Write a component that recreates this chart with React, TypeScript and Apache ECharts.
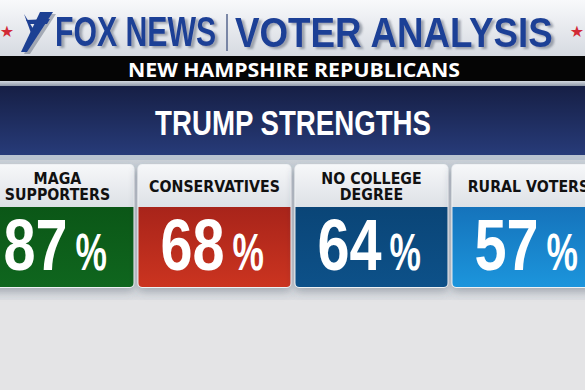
import React, { useEffect, useRef } from 'react';
import * as echarts from 'echarts';

const categories = ['MAGA\nSUPPORTERS', 'CONSERVATIVES', 'NO COLLEGE\nDEGREE', 'RURAL VOTERS'];
const positions = [0, 1, 2, 3];
const values = [87, 68, 64, 57];
const brand = 'FOX NEWS';
const brandTitle = 'VOTER ANALYSIS';
const subhead = 'NEW HAMPSHIRE REPUBLICANS';
const headline = 'TRUMP STRENGTHS';

const cardTop = ['#0b5717', '#a8241a', '#0a4577', '#1573bb'];
const cardBottom = ['#0f661e', '#cb3420', '#0d5189', '#1c95dc'];

export default function App() {
  const ref = useRef<HTMLDivElement>(null);
  useEffect(() => {
    const chart = echarts.init(ref.current!, null, { renderer: 'svg' });
    const lg = (a: string, b: string) =>
      new echarts.graphic.LinearGradient(0, 0, 0, 1, [
        { offset: 0, color: a },
        { offset: 1, color: b },
      ]);
    const shadowed = {
      textShadowColor: 'rgba(70,80,100,0.45)',
      textShadowOffsetX: 3,
      textShadowOffsetY: 2,
      textShadowBlur: 2,
    };
    const option: any = {
      animation: false,
      backgroundColor: '#e4e4e6',
      grid: { left: 0, right: 0, top: 165, bottom: 103 },
      xAxis: { type: 'value', min: -0.366, max: 3.36, show: false },
      yAxis: { type: 'value', min: 0, max: 1, show: false },
      graphic: [
        { type: 'rect', shape: { x: 0, y: 0, width: 585, height: 56 }, style: { fill: lg('#f8f9fb', '#d6dae1') } },
        { type: 'rect', shape: { x: 0, y: 56, width: 585, height: 25 }, style: { fill: '#050505' } },
        { type: 'rect', shape: { x: 0, y: 81, width: 585, height: 5 }, style: { fill: lg('#d3d8df', '#8f99a8') } },
        { type: 'rect', shape: { x: 0, y: 86, width: 585, height: 69 }, style: { fill: lg('#161f45', '#273b79') } },
        { type: 'rect', shape: { x: 0, y: 155, width: 585, height: 5 }, style: { fill: '#b9c3d0' } },
        { type: 'rect', shape: { x: 0, y: 160, width: 585, height: 140 }, style: { fill: lg('#cbd1d8', '#dcdee2') } },
        { type: 'text', x: 7, y: 31, style: { text: '★', fill: '#d22a36', fontSize: 16, fontFamily: 'DejaVu Sans', align: 'center', verticalAlign: 'middle' } },
        { type: 'text', x: 577, y: 31, style: { text: '★', fill: '#d22a36', fontSize: 16, fontFamily: 'DejaVu Sans', align: 'center', verticalAlign: 'middle' } },
        { type: 'polygon', shape: { points: [[40, 12], [53, 12], [27, 52], [21, 52]] }, style: { fill: '#1d3f93', shadowColor: 'rgba(70,80,100,0.4)', shadowOffsetX: 3, shadowOffsetY: 2 } },
        { type: 'polygon', shape: { points: [[26, 20], [50, 19], [47, 24], [29, 24]] }, style: { fill: '#1d3f93' } },
        { type: 'polygon', shape: { points: [[24, 14], [34, 30], [31, 33]] }, style: { fill: '#1d3f93' } },
        { type: 'text', x: 55, y: 32, scaleX: 0.72, style: { text: brand, fill: '#1f4096', fontSize: 42, fontWeight: 'bold', fontFamily: 'Liberation Sans', align: 'left', verticalAlign: 'middle', ...shadowed } },
        { type: 'line', shape: { x1: 227, y1: 14, x2: 227, y2: 51 }, style: { stroke: '#56668e', lineWidth: 1.5 } },
        { type: 'text', x: 235, y: 32, scaleX: 0.875, style: { text: brandTitle, fill: '#1f4096', fontSize: 42, fontWeight: 'bold', fontFamily: 'Liberation Sans', align: 'left', verticalAlign: 'middle', ...shadowed } },
        { type: 'text', x: 294, y: 69, scaleX: 1.12, style: { text: subhead, fill: '#ffffff', fontSize: 19, fontWeight: 'bold', fontFamily: 'Open Sans', align: 'center', verticalAlign: 'middle' } },
        { type: 'text', x: 293, y: 123, scaleX: 0.79, style: { text: headline, fill: '#ffffff', fontSize: 35, fontWeight: 'bold', fontFamily: 'Liberation Sans', align: 'center', verticalAlign: 'middle' } },
      ],
      series: [
        {
          type: 'custom',
          data: positions.map((p, i) => [p, values[i]]),
          renderItem: (params: any, api: any) => {
            const i = params.dataIndex;
            const p = api.value(0);
            const top = api.coord([p, 1]);
            const bottom = api.coord([p, 0]);
            const band = api.size([1, 0])[0];
            const w = band - 5;
            const cx = top[0];
            const x0 = cx - w / 2;
            const y0 = top[1];
            const y1 = bottom[1];
            const headH = 42;
            return {
              type: 'group',
              children: [
                {
                  type: 'rect',
                  shape: { x: x0 - 1, y: y0 - 1, width: w + 2, height: y1 - y0 + 2, r: 5 },
                  style: { fill: '#eef1f4', shadowBlur: 8, shadowOffsetY: 4, shadowColor: 'rgba(60,70,90,0.35)' },
                },
                {
                  type: 'rect',
                  shape: { x: x0, y: y0, width: w, height: headH, r: [4, 4, 0, 0] },
                  style: { fill: lg('#f6f7f9', '#dde1e6') },
                },
                {
                  type: 'rect',
                  shape: { x: x0, y: y0 + headH, width: w, height: y1 - y0 - headH, r: [0, 0, 4, 4] },
                  style: { fill: lg(cardTop[i], cardBottom[i]) },
                },
                {
                  type: 'text',
                  x: cx,
                  y: y0 + 22,
                  scaleX: 0.86,
                  style: {
                    text: categories[i],
                    fill: '#111111',
                    fontSize: 16.5,
                    fontWeight: 'bold',
                    fontFamily: 'DejaVu Sans',
                    lineHeight: 16,
                    align: 'center',
                    verticalAlign: 'middle',
                  },
                },
                {
                  type: 'text',
                  x: cx + 10,
                  y: y0 + 80,
                  scaleX: 0.8,
                  style: {
                    text: String(api.value(1)),
                    fill: '#ffffff',
                    fontSize: 72,
                    fontWeight: 'bold',
                    fontFamily: 'Liberation Sans',
                    align: 'right',
                    verticalAlign: 'middle',
                  },
                },
                {
                  type: 'text',
                  x: cx + 18,
                  y: y0 + 87,
                  scaleX: 0.68,
                  style: {
                    text: '%',
                    fill: '#ffffff',
                    fontSize: 52,
                    fontWeight: 'bold',
                    fontFamily: 'Liberation Sans',
                    align: 'left',
                    verticalAlign: 'middle',
                  },
                },
              ],
            };
          },
        },
      ],
    };
    chart.setOption(option);
    return () => chart.dispose();
  }, []);
  return <div ref={ref} style={{ position: 'fixed', left: 0, top: 0, width: 585, height: 390 }} />;
}
